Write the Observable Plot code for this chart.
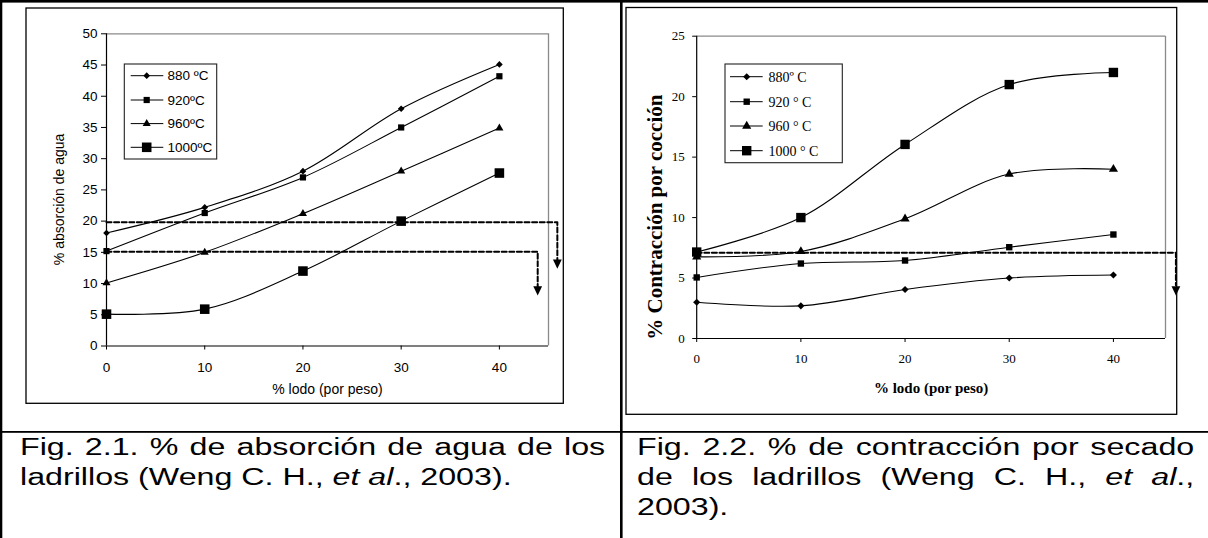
<!DOCTYPE html>
<html><head><meta charset="utf-8">
<script src="https://cdn.jsdelivr.net/npm/d3@7"></script>
<script src="https://cdn.jsdelivr.net/npm/@observablehq/plot@0.6"></script>
<style>
html,body{margin:0;padding:0;background:#fff;}
#page{position:relative;width:1208px;height:538px;overflow:hidden;background:#fff;}
.cap{position:absolute;font-family:'Liberation Sans',Arial,sans-serif;font-size:23px;line-height:30px;transform:scaleX(1.4);transform-origin:0 0;color:#000;}
.cap div{white-space:nowrap;height:30px;}
.cap div.j{text-align:justify;text-align-last:justify;}
.cap div.l{text-align:left;}
</style></head><body><div id="page"></div>
<script>
// ---------- data ----------
const lodo = [0, 10, 20, 30, 40];                       // % lodo (por peso)
const seriesNames1 = ["880 ºC", "920ºC", "960ºC", "1000ºC"];
const absorcion880  = [18.1, 22.2, 28.0, 38.0, 45.1];
const absorcion920  = [15.2, 21.3, 27.0, 35.0, 43.2];
const absorcion960  = [10.1, 15.0, 21.2, 28.0, 34.9];
const absorcion1000 = [5.1, 5.9, 12.0, 20.0, 27.7];
const seriesNames2 = ["880º C", "920 ° C", "960 ° C", "1000 ° C"];
const contraccion880  = [3.0, 2.7, 4.05, 5.0, 5.25];
const contraccion920  = [5.05, 6.2, 6.45, 7.55, 8.6];
const contraccion960  = [6.75, 7.2, 9.9, 13.6, 14.0];
const contraccion1000 = [7.15, 10.0, 16.05, 21.0, 22.0];
const xTicks = [0, 10, 20, 30, 40];
const yTicks1 = [0, 5, 10, 15, 20, 25, 30, 35, 40, 45, 50];
const yTicks2 = [0, 5, 10, 15, 20, 25];
// dashed guide lines (data units) and arrow heads
const guide1aX = [0, 45.9, 45.9], guide1aY = [19.8, 19.8, 13.7];
const guide1bX = [0, 43.9, 43.9], guide1bY = [15.1, 15.1, 9.4];
const arrow1X = [45.9, 43.9], arrow1Y = [13.2, 8.95];
const guide2X = [0, 46, 46], guide2Y = [7.1, 7.1, 4.4];
const arrow2X = [46], arrow2Y = [3.99];
// texts
const xLabel1 = "% lodo (por peso)", yLabel1 = "% absorción de agua";
const xLabel2 = "% lodo (por peso)", yLabel2 = "% Contracción por cocción";
const captionLines1 = ["Fig. 2.1. % de absorción de agua de los", "ladrillos (Weng C. H., <i>et al</i>., 2003)."];
const captionLines2 = ["Fig. 2.2. % de contracción por secado", "de los ladrillos (Weng C. H., <i>et al</i>.,", "2003)."];

// ---------- styles ----------
const symbols = ["diamond2", "square", "triangle", "square"];
const rad1 = [3.0, 3.5, 3.0, 5.4];
const rad2 = [3.2, 3.6, 3.4, 5.3];
const triDown = {draw(ctx, size){ const r = Math.sqrt(size/Math.PI); ctx.moveTo(-r, -r*0.9); ctx.lineTo(r, -r*0.9); ctx.lineTo(0, r*1.2); ctx.closePath(); }};

function rowsOf(names, arrays){
  const out = [];
  names.forEach((n,i)=> arrays[i].forEach((v,j)=> out.push({s:n, x:lodo[j], y:v})));
  return out;
}
function pts(xs, ys, id){ return xs.map((x,i)=>({id, x, y:ys[i]})); }

const rows1 = rowsOf(seriesNames1, [absorcion880, absorcion920, absorcion960, absorcion1000]);
const rows2 = rowsOf(seriesNames2, [contraccion880, contraccion920, contraccion960, contraccion1000]);

const page = document.getElementById("page");
function place(node, left, top){ node.style.position="absolute"; node.style.left=left+"px"; node.style.top=top+"px"; page.appendChild(node); }

// ---------- chart 1 ----------
const sans = "'Liberation Sans', Arial, sans-serif";
const serif = "'Liberation Serif', 'Times New Roman', serif";
const p1 = Plot.plot({
  width: 538, height: 397, marginLeft: 80, marginRight: 16, marginTop: 26.3, marginBottom: 58.5,
  x: {domain: [0, 45]}, y: {domain: [0, 50]},
  style: {fontFamily: sans, fontSize: "13.5px", background: "transparent", color: "black", overflow: "visible"},
  marks: [
    Plot.ruleY([50], {stroke: "#8a8a8a", strokeWidth: 1.3}),
    Plot.ruleX([45], {stroke: "#8a8a8a", strokeWidth: 1.3}),
    Plot.axisX({ticks: xTicks, tickSize: 4, tickPadding: 12, label: null, tickFormat: d => d}),
    Plot.axisY({ticks: yTicks1, tickSize: 5, tickPadding: 4, label: null, tickFormat: d => d}),
    Plot.line(rows1, {x: "x", y: "y", z: "s", curve: "catmull-rom", stroke: "black", strokeWidth: 1.1}),
    ...seriesNames1.map((n,i)=> Plot.dot(rows1.filter(d=>d.s===n), {x:"x", y:"y", symbol: symbols[i], r: rad1[i], fill: "black", stroke: "none"})),
    Plot.line([...pts(guide1aX, guide1aY, "a"), ...pts(guide1bX, guide1bY, "b")], {x:"x", y:"y", z:"id", stroke:"black", strokeWidth: 2, strokeDasharray: "5,2.6"}),
    Plot.dot(pts(arrow1X, arrow1Y, "h"), {x:"x", y:"y", symbol: triDown, r: 4.4, fill: "black", stroke: "none"}),
    Plot.ruleX([0], {stroke: "black", strokeWidth: 1.2}),
    Plot.ruleY([0], {stroke: "black", strokeWidth: 1.2}),
    Plot.text([yLabel1], {text: d=>d, frameAnchor: "left", dx: -47, dy: 9.5, rotate: -90, textAnchor: "middle", lineAnchor: "middle", fontSize: 14}),
    Plot.text([xLabel1], {text: d=>d, frameAnchor: "bottom", dy: 44, textAnchor: "middle", lineAnchor: "middle", fontSize: 14})
  ]
});
place(p1, 26, 7);

// ---------- chart 2 ----------
const p2 = Plot.plot({
  width: 551, height: 407, marginLeft: 70.2, marginRight: 12, marginTop: 28.7, marginBottom: 76,
  x: {domain: [0, 45]}, y: {domain: [0, 25]},
  style: {fontFamily: serif, fontSize: "13px", background: "transparent", color: "black", overflow: "visible"},
  marks: [
    Plot.ruleY([25], {stroke: "#8a8a8a", strokeWidth: 1.3}),
    Plot.ruleX([45], {stroke: "#8a8a8a", strokeWidth: 1.3}),
    Plot.axisX({ticks: xTicks, tickSize: 4, tickPadding: 11, label: null, tickFormat: d => d}),
    Plot.axisY({ticks: yTicks2, tickSize: 4, tickPadding: 8, label: null, tickFormat: d => d}),
    Plot.line(rows2, {x: "x", y: "y", z: "s", curve: "catmull-rom", stroke: "black", strokeWidth: 1.1}),
    ...seriesNames2.map((n,i)=> Plot.dot(rows2.filter(d=>d.s===n), {x:"x", y:"y", symbol: symbols[i], r: rad2[i], fill: "black", stroke: "none"})),
    Plot.line(pts(guide2X, guide2Y, "c"), {x:"x", y:"y", stroke:"black", strokeWidth: 2, strokeDasharray: "5,2.6"}),
    Plot.dot(pts(arrow2X, arrow2Y, "h"), {x:"x", y:"y", symbol: triDown, r: 4.4, fill: "black", stroke: "none"}),
    Plot.ruleX([0], {stroke: "black", strokeWidth: 1.2}),
    Plot.ruleY([0], {stroke: "black", strokeWidth: 1.2}),
    Plot.text([yLabel2], {text: d=>d, frameAnchor: "left", dx: -41.2, dy: 29.8, rotate: -90, textAnchor: "middle", lineAnchor: "middle", fontSize: 21, fontWeight: "bold"}),
    Plot.text([xLabel2], {text: d=>d, frameAnchor: "bottom", dy: 50, textAnchor: "middle", lineAnchor: "middle", fontSize: 15, fontWeight: "bold"})
  ]
});
place(p2, 626, 7);

// ---------- table borders, frames, legends ----------
const ov = d3.select(page).append("svg").attr("width", 1208).attr("height", 538)
  .style("position","absolute").style("left","0px").style("top","0px").style("pointer-events","none");
ov.append("rect").attr("x",0).attr("y",0).attr("width",1208).attr("height",2.6).attr("fill","black");
ov.append("rect").attr("x",0).attr("y",0).attr("width",2.3).attr("height",538).attr("fill","black");
ov.append("rect").attr("x",620).attr("y",0).attr("width",2.6).attr("height",538).attr("fill","black");
ov.append("rect").attr("x",0).attr("y",431).attr("width",1208).attr("height",1.8).attr("fill","black");
ov.append("rect").attr("x",26).attr("y",8).attr("width",537.3).attr("height",395.3).attr("fill","none").attr("stroke","black").attr("stroke-width",1.3);
ov.append("rect").attr("x",626).attr("y",7.5).attr("width",550.7).attr("height",406.8).attr("fill","none").attr("stroke","black").attr("stroke-width",1.3);

function legend(cfg){
  const g = ov.append("g");
  g.append("rect").attr("x",cfg.x0).attr("y",cfg.y0).attr("width",cfg.x1-cfg.x0).attr("height",cfg.y1-cfg.y0)
    .attr("fill","white").attr("stroke","#222").attr("stroke-width",1.1);
  cfg.names.forEach((n,i)=>{
    const y = cfg.rows[i];
    g.append("line").attr("x1",cfg.lx0).attr("x2",cfg.lx1).attr("y1",y).attr("y2",y).attr("stroke","black").attr("stroke-width",1);
    const t = {diamond2: d3.symbolDiamond2, square: d3.symbolSquare, triangle: d3.symbolTriangle}[symbols[i]];
    g.append("path").attr("d", d3.symbol(t, Math.PI*cfg.rad[i]*cfg.rad[i])()).attr("transform",`translate(${cfg.mx},${y})`).attr("fill","black");
    g.append("text").attr("x",cfg.tx).attr("y",y).attr("dy","0.35em").attr("font-family",cfg.font).attr("font-size",cfg.size).text(n);
  });
}
legend({x0:124.3, y0:64, x1:216.7, y1:159, rows:[75.7,100,123.6,147.3], lx0:130.7, lx1:163.3, mx:146.7, tx:167.5,
  names: seriesNames1, rad: rad1, font: sans, size: 13.5});
legend({x0:725, y0:64, x1:842.3, y1:162.7, rows:[76.7,101.7,126,150.7], lx0:730, lx1:762.7, mx:746.7, tx:768.5,
  names: seriesNames2, rad: rad2, font: serif, size: 14});

// ---------- captions (one block per line, justified like the original) ----------
function caption(lines, left, top, innerWidth){
  const box = document.createElement("div"); box.className = "cap"; box.style.width = innerWidth + "px";
  lines.forEach((ln, i) => {
    const d = document.createElement("div");
    d.className = i < lines.length - 1 ? "j" : "l";
    d.innerHTML = ln; box.appendChild(d);
  });
  place(box, left, top);
}
caption(captionLines1, 20, 432, 418);
caption(captionLines2, 637, 432, 398);
</script>
</body></html>
